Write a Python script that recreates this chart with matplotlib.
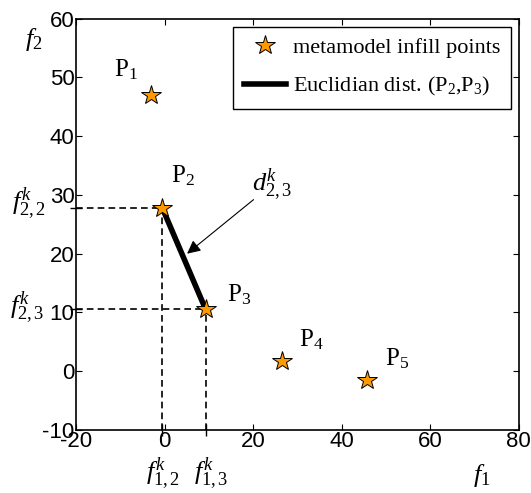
import matplotlib
matplotlib.use('Agg')
import matplotlib.pyplot as plt
from matplotlib.lines import Line2D

plt.rcParams['font.family'] = 'Liberation Sans'
plt.rcParams['axes.unicode_minus'] = False
plt.rcParams['mathtext.fontset'] = 'custom'
plt.rcParams['mathtext.rm'] = 'Liberation Serif'
plt.rcParams['mathtext.it'] = 'Liberation Serif:italic'

# infill points (f1, f2)
names = ['P$_1$', 'P$_2$', 'P$_3$', 'P$_4$', 'P$_5$']
f1 = [-3.1, -0.5, 9.3, 26.5, 45.7]
f2 = [47.0, 27.8, 10.5, 1.7, -1.5]
# where the point names sit (left edge / baseline)
label_x = [-11.5, 1.4, 14.0, 30.3, 49.8]
label_y = [50.1, 32.1, 11.8, 4.2, 0.9]

fig = plt.figure(figsize=(5.31, 4.93), dpi=100)
ax = fig.add_axes([0.143, 0.128, 0.834, 0.834])

ax.set_xlim(-20, 80)
ax.set_ylim(-10, 60)
ax.set_xticks(range(-20, 81, 20))
ax.set_yticks(range(-10, 61, 10))

# dashed projection lines from P2 and P3
for i in (1, 2):
    ax.plot([-20, f1[i]], [f2[i], f2[i]], color='k', ls=(0, (4, 2.5)), lw=1.2, zorder=2)
    ax.plot([f1[i], f1[i]], [-10, f2[i]], color='k', ls=(0, (4, 2.5)), lw=1.2, zorder=2)

# euclidian distance between P2 and P3
ax.plot([f1[1], f1[2]], [f2[1], f2[2]], color='k', lw=4, zorder=3)

ax.plot(f1, f2, linestyle='none', marker='*', markersize=15,
        markerfacecolor='#ff9900', markeredgecolor='k', markeredgewidth=0.7, zorder=4)

for n, x, y in zip(names, label_x, label_y):
    ax.text(x, y, n, fontsize=18, ha='left', va='baseline', family='Liberation Serif')

ax.annotate('', xy=(5.1, 20.0), xytext=(20.1, 29.2),
            arrowprops=dict(arrowstyle='-|>', color='k', lw=0.8,
                            mutation_scale=20, shrinkA=0, shrinkB=0))
ax.text(24.2, 31.7, r'$d^{k}_{\mathit{2,3}}$', fontsize=19, ha='center', va='center')

# axis labels as free text, like the original
ax.text(-29.5, 56.4, r'$f_{\mathit{2}}$', fontsize=19, ha='center', va='center', clip_on=False)
ax.text(71.6, -17.8, r'$f_{\mathit{1}}$', fontsize=19, ha='center', va='center', clip_on=False)
ax.text(-30.6, 28.5, r'$f^{k}_{\mathit{2,2}}$', fontsize=19, ha='center', va='center', clip_on=False)
ax.text(-31.0, 10.8, r'$f^{k}_{\mathit{2,3}}$', fontsize=19, ha='center', va='center', clip_on=False)
ax.text(-0.4, -17.4, r'$f^{k}_{\mathit{1,2}}$', fontsize=19, ha='center', va='center', clip_on=False)
ax.text(10.5, -17.4, r'$f^{k}_{\mathit{1,3}}$', fontsize=19, ha='center', va='center', clip_on=False)

# small marks where the dashed lines meet the axes
ax.set_xticks([f1[1], f1[2]], minor=True)
ax.set_yticks([f2[1], f2[2]], minor=True)
ax.tick_params(which='minor', direction='inout', length=8, width=1,
               top=False, right=False, labelbottom=False, labelleft=False)
ax.tick_params(which='major', direction='in', length=4, width=0.8,
               top=True, right=True, labelsize=16, pad=1)
for s in ax.spines.values():
    s.set_linewidth(1.2)

handles = [
    Line2D([], [], linestyle='none', marker='*', markersize=15,
           markerfacecolor='#ff9900', markeredgecolor='k', markeredgewidth=0.7),
    Line2D([], [], color='k', lw=4),
]
leg = ax.legend(handles, ['metamodel infill points', 'Euclidian dist. (P$_2$,P$_3$)'],
                loc='upper right', prop={'family': 'Liberation Serif', 'size': 16},
                fancybox=False, edgecolor='k', framealpha=1, handlelength=1.9,
                borderaxespad=0.35, handletextpad=0.3, borderpad=0.5, labelspacing=0.75)
leg.get_frame().set_linewidth(1)

fig.savefig('out.png', dpi=100)
